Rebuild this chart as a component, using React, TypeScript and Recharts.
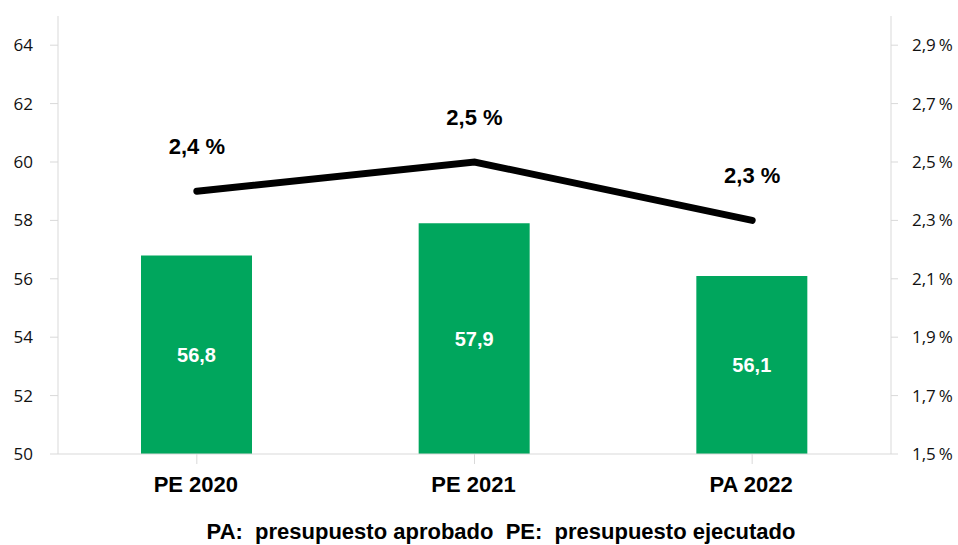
import React from 'react';
import { ComposedChart, Bar, Line, XAxis, YAxis, LabelList } from 'recharts';

const categories = ['PE 2020', 'PE 2021', 'PA 2022'];
const budgetValues = [56.8, 57.9, 56.1];
const pctValues = [2.4, 2.5, 2.3];
const leftTicks = [50, 52, 54, 56, 58, 60, 62, 64];
const rightTicks = [1.5, 1.7, 1.9, 2.1, 2.3, 2.5, 2.7, 2.9];
const note = 'PA:  presupuesto aprobado  PE:  presupuesto ejecutado';

const data = categories.map((c, i) => ({ name: c, budget: budgetValues[i], pct: pctValues[i] }));

const fmt1 = (v: number) => v.toFixed(1).replace('.', ',');

const LineLabel = (props: any) => {
  const { x, y, value } = props;
  return (
    <text x={x} y={y - 37} textAnchor="middle" fontFamily="Liberation Sans, Arial, sans-serif" fontWeight="bold" fontSize={22} fill="#000">
      {fmt1(value) + ' %'}
    </text>
  );
};

const XTick = (props: any) => {
  const { x, y, payload } = props;
  return (
    <text x={x - 1} y={y + 26} textAnchor="middle" fontFamily="Liberation Sans, Arial, sans-serif" fontWeight="bold" fontSize={22} fill="#000">
      {payload.value}
    </text>
  );
};

export default function App() {
  return (
    <div style={{ position: 'absolute', left: 0, top: 0, width: 958, height: 545, background: '#fff', overflow: 'hidden' }}>
      <ComposedChart width={958} height={545} data={data} margin={{ top: 16, right: 0, bottom: 0, left: 0 }}>
        <XAxis dataKey="name" stroke="#d9d9d9" tickLine={{ stroke: '#d9d9d9' }} tickSize={10} height={91} tick={<XTick />} interval={0} />
        <YAxis
          yAxisId="left"
          orientation="left"
          domain={[50, 65]}
          ticks={leftTicks}
          width={58}
          stroke="#d9d9d9"
          tickSize={8}
          tickMargin={17}
          tick={{ fill: '#111', fontSize: 17, fontFamily: 'Open Sans, sans-serif' }}
        />
        <YAxis
          yAxisId="right"
          orientation="right"
          domain={[1.5, 3.0]}
          ticks={rightTicks}
          width={67}
          stroke="#d9d9d9"
          tickSize={7}
          tickMargin={14}
          tickFormatter={(v: number) => fmt1(v) + '\u2009%'}
          tick={{ fill: '#111', fontSize: 17, fontFamily: 'Open Sans, sans-serif', textAnchor: 'start' }}
        />
        <Bar yAxisId="left" dataKey="budget" fill="#00A65D" barSize={111} isAnimationActive={false}>
          <LabelList
            dataKey="budget"
            position="center"
            formatter={(v: any) => fmt1(Number(v))}
            fill="#fff"
            fontSize={20}
            fontWeight="bold"
            fontFamily="Liberation Sans, Arial, sans-serif"
          />
        </Bar>
        <Line yAxisId="right" dataKey="pct" stroke="#000" strokeWidth={7} strokeLinecap="round" dot={false} isAnimationActive={false}>
          <LabelList dataKey="pct" content={<LineLabel />} />
        </Line>
      </ComposedChart>
      <div
        style={{
          position: 'absolute',
          left: 0,
          width: 1002,
          top: 519,
          textAlign: 'center',
          fontFamily: 'Liberation Sans, Arial, sans-serif',
          fontWeight: 'bold',
          fontSize: 22,
          lineHeight: '25px',
          color: '#000',
          whiteSpace: 'pre',
        }}
      >
        {note}
      </div>
    </div>
  );
}
